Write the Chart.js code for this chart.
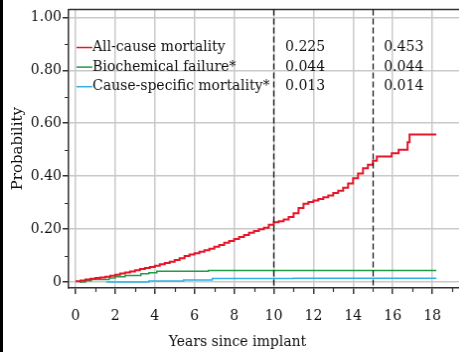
<!DOCTYPE html>
<html>
<head>
<meta charset="utf-8">
<script src="https://cdn.jsdelivr.net/npm/chart.js@4/dist/chart.umd.min.js"></script>
<style>
  html, body { margin: 0; padding: 0; background: #fff; overflow: hidden; }
  #wrap { width: 459px; height: 352px; overflow: hidden; }
  canvas { display: block; border-left: 3px solid #000; }
</style>
</head>
<body>
<div id="wrap"><canvas id="kmChart" width="470" height="352"></canvas></div>
<script>
// series names and values at 10 / 15 years
const seriesNames = ["All-cause mortality", "Biochemical failure*", "Cause-specific mortality*"];
const at10 = ["0.225", "0.044", "0.013"];
const at15 = ["0.453", "0.044", "0.014"];
const cutoffYears = [10, 15];

// step curves (years, probability)
const allCauseT = [0, 0.25, 0.5, 0.75, 1.0, 1.25, 1.5, 1.75, 2.0, 2.25, 2.5, 2.75, 3.0, 3.25, 3.5, 3.75,
  4.0, 4.25, 4.5, 4.75, 5.0, 5.25, 5.5, 5.75, 6.0, 6.25, 6.5, 6.75, 7.0, 7.25, 7.5, 7.75,
  8.0, 8.25, 8.5, 8.75, 9.0, 9.25, 9.5, 9.75, 10.0, 10.25, 10.5, 10.75, 11.0, 11.25, 11.5, 11.75,
  12.0, 12.25, 12.5, 12.75, 13.0, 13.25, 13.5, 13.75, 14.0, 14.25, 14.5, 14.75, 15.0, 15.2,
  15.95, 16.3, 16.75, 16.85, 18.2];
const allCauseP = [0.003, 0.006, 0.01, 0.012, 0.015, 0.017, 0.02, 0.024, 0.028, 0.032, 0.036, 0.04, 0.045, 0.049, 0.053, 0.057,
  0.062, 0.067, 0.072, 0.077, 0.083, 0.09, 0.098, 0.104, 0.109, 0.114, 0.12, 0.126, 0.133, 0.14, 0.148, 0.155,
  0.163, 0.17, 0.178, 0.186, 0.193, 0.199, 0.205, 0.216, 0.226, 0.23, 0.236, 0.246, 0.26, 0.28, 0.296, 0.302,
  0.308, 0.314, 0.32, 0.327, 0.336, 0.345, 0.356, 0.372, 0.392, 0.41, 0.43, 0.443, 0.458, 0.474,
  0.487, 0.5, 0.528, 0.557, 0.557];

const biochemT = [0.2, 0.5, 0.8, 1.7, 2.0, 2.5, 3.3, 3.7, 4.1, 6.7, 18.2];
const biochemP = [0, 0.005, 0.01, 0.015, 0.02, 0.025, 0.031, 0.035, 0.041, 0.044, 0.044];

const causeSpecT = [1.55, 3.7, 5.45, 6.9, 11.0, 18.2];
const causeSpecP = [0.0, 0.004, 0.008, 0.013, 0.014, 0.014];

const colors = ["#e5162a", "#1f9c48", "#33aee6"];
const serif = "'DejaVu Serif', serif";

const toPts = (t, p) => t.map((x, i) => ({ x: x, y: p[i] }));
const isMajorY = v => Math.round(v * 10) % 2 === 0;
const isMajorX = v => Math.round(v) % 2 === 0;

// frame top, minor ticks, cut-off lines, legend and table, x title
const extras = {
  id: "extras",
  afterDraw(chart) {
    const ctx = chart.ctx;
    const a = chart.chartArea;
    const xs = chart.scales.x, ys = chart.scales.y;
    ctx.save();
    ctx.strokeStyle = "#333";
    ctx.lineWidth = 1.5;
    ctx.beginPath();
    ctx.moveTo(a.left, a.top);
    ctx.lineTo(a.right, a.top);
    ctx.stroke();

    // minor ticks
    ctx.lineWidth = 1.2;
    ctx.beginPath();
    for (let yr = 1; yr <= 19; yr += 2) {
      const px = Math.round(xs.getPixelForValue(yr)) + 0.5;
      ctx.moveTo(px, a.bottom);
      ctx.lineTo(px, a.bottom + 4);
    }
    for (let k = 1; k <= 9; k += 2) {
      const py = Math.round(ys.getPixelForValue(k / 10)) + 0.5;
      ctx.moveTo(a.left, py);
      ctx.lineTo(a.left - 4, py);
    }
    ctx.stroke();

    // dashed cut-off lines
    ctx.strokeStyle = "#111";
    ctx.lineWidth = 1.3;
    ctx.setLineDash([6, 3]);
    cutoffYears.forEach(yr => {
      const px = Math.round(xs.getPixelForValue(yr)) + 0.5;
      ctx.beginPath();
      ctx.moveTo(px, a.top);
      ctx.lineTo(px, a.bottom);
      ctx.stroke();
    });
    ctx.setLineDash([]);

    // legend with table values
    ctx.font = "14px " + serif;
    ctx.textBaseline = "middle";
    ctx.textAlign = "left";
    const rowY = [0.886, 0.812, 0.738];
    seriesNames.forEach((name, i) => {
      const py = ys.getPixelForValue(rowY[i]);
      ctx.strokeStyle = colors[i];
      ctx.lineWidth = 1.5;
      ctx.beginPath();
      ctx.moveTo(xs.getPixelForValue(0.05), py);
      ctx.lineTo(xs.getPixelForValue(0.85), py);
      ctx.stroke();
      ctx.fillStyle = "#111";
      ctx.fillText(name, xs.getPixelForValue(0.85), py);
      ctx.fillText(at10[i], xs.getPixelForValue(10.58), py);
      ctx.fillText(at15[i], xs.getPixelForValue(15.55), py);
    });

    // x axis title
    ctx.textAlign = "center";
    ctx.fillText("Years since implant", 236, 342);
    ctx.restore();
  }
};

const config = {
  type: "line",
  data: {
    datasets: [
      { label: seriesNames[0], data: toPts(allCauseT, allCauseP), borderColor: colors[0], borderWidth: 2 },
      { label: seriesNames[1], data: toPts(biochemT, biochemP), borderColor: colors[1], borderWidth: 1.5 },
      { label: seriesNames[2], data: toPts(causeSpecT, causeSpecP), borderColor: colors[2], borderWidth: 1.5 }
    ].map(d => Object.assign(d, { stepped: true, pointRadius: 0, fill: false }))
  },
  options: {
    responsive: false,
    animation: false,
    layout: { padding: { top: 7, right: 4, left: 0, bottom: 0 } },
    plugins: { legend: { display: false }, tooltip: { enabled: false } },
    scales: {
      x: {
        type: "linear",
        min: -0.35,
        max: 19.7,
        afterFit: s => { s.height = 64; },
        border: { color: "#333", width: 1.5 },
        grid: {
          color: c => isMajorX(c.tick.value) ? "#c9c9c9" : "rgba(0,0,0,0)",
          lineWidth: 1.5,
          tickColor: c => isMajorX(c.tick.value) ? "#333" : "rgba(0,0,0,0)",
          tickLength: 6
        },
        ticks: {
          stepSize: 1,
          includeBounds: false,
          autoSkip: false,
          maxRotation: 0,
          padding: 14,
          color: "#111",
          font: { family: serif, size: 14 },
          callback: v => isMajorX(v) ? String(v) : ""
        }
      },
      y: {
        min: -0.0225,
        max: 1.03,
        afterFit: s => { s.width = 66; },
        border: { color: "#333", width: 1.5 },
        grid: {
          color: c => isMajorY(c.tick.value) ? "#c9c9c9" : "rgba(0,0,0,0)",
          lineWidth: 1.5,
          tickColor: c => isMajorY(c.tick.value) ? "#333" : "rgba(0,0,0,0)",
          tickLength: 6
        },
        ticks: {
          stepSize: 0.1,
          includeBounds: false,
          autoSkip: false,
          padding: 1,
          color: "#111",
          font: { family: serif, size: 14 },
          callback: v => isMajorY(v) ? (Math.abs(v) < 1e-9 ? "0" : v.toFixed(2)) : ""
        },
        title: {
          display: true,
          text: "Probability",
          color: "#111",
          font: { family: serif, size: 15 },
          padding: { top: 6, bottom: 0 }
        }
      }
    }
  },
  plugins: [extras]
};

new Chart(document.getElementById("kmChart"), config);
</script>
</body>
</html>
